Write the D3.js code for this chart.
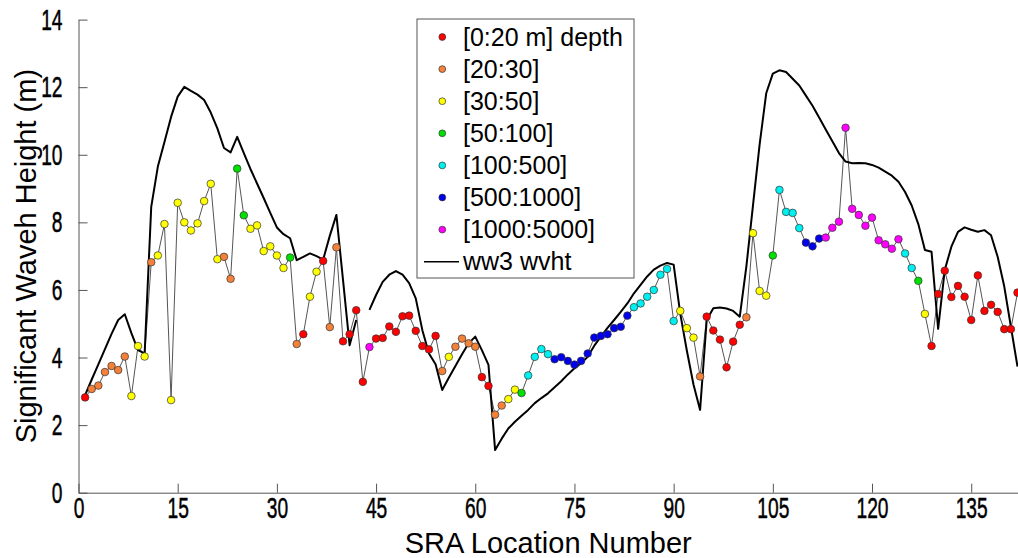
<!DOCTYPE html>
<html>
<head>
<meta charset="utf-8">
<script src="https://cdn.jsdelivr.net/npm/d3@7"></script>
<style>
  body { margin: 0; background: #fff; }
  text { font-family: 'Liberation Sans', Arial, sans-serif; }
</style>
</head>
<body>
<div id="chart"></div>
<script>
// depth classes for the observed points
const depthLabels = ['[0:20 m] depth', '[20:30]', '[30:50]', '[50:100]', '[100:500]', '[500:1000]', '[1000:5000]']
const depthColors = ['#ff0000', '#f4813a', '#ffff00', '#00e000', '#00f0f0', '#0000ee', '#ff00ff']

// observed significant wave height at SRA locations 1..142
const observedHs = [
  2.82, 3.07, 3.17, 3.57, 3.75, 3.63, 4.03, 2.86, 4.34, 4.03,
  6.82, 7.02, 7.95, 2.74, 8.58, 8.00, 7.76, 7.97, 8.63, 9.14,
  6.91, 6.98, 6.33, 9.59, 8.21, 7.81, 7.91, 7.15, 7.29, 7.02,
  6.65, 6.96, 4.40, 4.69, 5.80, 6.54, 6.86, 4.90, 7.26, 4.48,
  4.69, 5.40, 3.28, 4.31, 4.56, 4.58, 4.92, 4.76, 5.22, 5.24,
  4.79, 4.34, 4.24, 4.64, 3.60, 4.02, 4.32, 4.56, 4.42, 4.32,
  3.42, 3.16, 2.31, 2.58, 2.77, 3.05, 2.95, 3.47, 4.02, 4.25,
  4.10, 3.95, 4.01, 3.90, 3.79, 3.90, 4.12, 4.59, 4.64, 4.69,
  4.87, 4.91, 5.24, 5.49, 5.60, 5.80, 6.00, 6.45, 6.62, 5.08,
  5.38, 4.87, 4.59, 3.44, 5.21, 4.80, 4.53, 3.71, 4.47, 4.97,
  5.19, 7.68, 5.97, 5.83, 7.02, 8.96, 8.31, 8.28, 7.83, 7.40,
  7.29, 7.52, 7.55, 7.84, 8.02, 10.80, 8.40, 8.22, 7.90, 8.14,
  7.47, 7.35, 7.22, 7.50, 7.08, 6.65, 6.27, 5.29, 4.34, 5.88,
  6.57, 5.79, 6.12, 5.80, 5.11, 6.43, 5.38, 5.56, 5.35, 4.84,
  4.84, 5.92
]

// index into depthLabels for each observed point
const depthBin = [
  0, 1, 1, 1, 1, 1, 1, 2, 2, 2,
  1, 2, 2, 2, 2, 2, 2, 2, 2, 2,
  2, 1, 1, 3, 3, 2, 2, 2, 2, 2,
  2, 3, 1, 0, 2, 2, 0, 1, 1, 0,
  0, 0, 0, 6, 0, 0, 0, 0, 0, 0,
  0, 0, 0, 0, 1, 2, 1, 1, 1, 1,
  0, 0, 1, 1, 2, 2, 3, 4, 4, 4,
  4, 5, 5, 5, 5, 5, 5, 5, 5, 5,
  5, 5, 5, 4, 4, 4, 4, 4, 4, 4,
  2, 2, 2, 1, 0, 0, 0, 0, 0, 0,
  1, 2, 2, 2, 3, 4, 4, 4, 4, 5,
  5, 5, 6, 6, 6, 6, 6, 6, 6, 6,
  6, 6, 6, 6, 4, 4, 3, 2, 0, 0,
  0, 0, 0, 0, 0, 0, 0, 0, 0, 0,
  0, 0
]

// ww3 model wave height at the same locations (null = no value)
const ww3Hs = [
  2.89, 3.35, 3.80, 4.25, 4.70, 5.11, 5.28, 4.72, 4.22, 4.12,
  8.46, 9.65, 10.38, 11.12, 11.72, 12.01, 11.89, 11.78, 11.62, 11.25,
  10.78, 10.20, 10.07, 10.53, 10.05, 9.58, 9.15, 8.72, 8.28, 7.85,
  7.65, 7.53, 6.88, 6.98, 7.08, 7.00, 6.90, 7.60, 8.22, 6.30,
  4.36, 5.11, null, 5.41, 5.85, 6.24, 6.45, 6.56, 6.45, 6.20,
  5.75, 4.81, 4.12, 3.80, 3.04, 3.40, 3.75, 4.10, 4.42, 4.62,
  4.22, 3.78, 1.26, 1.60, 1.90, 2.10, 2.28, 2.45, 2.65, 2.80,
  2.94, 3.12, 3.30, 3.50, 3.68, 3.83, 4.02, 4.35, 4.62, 4.88,
  5.11, 5.35, 5.60, 5.90, 6.15, 6.40, 6.60, 6.72, 6.80, 6.75,
  5.30, 4.20, 3.20, 2.45, 5.11, 5.46, 5.48, 5.45, 5.38, 5.21,
  6.70, 8.50, 10.30, 11.82, 12.40, 12.50, 12.45, 12.25, 12.05, 11.75,
  11.45, 11.10, 10.75, 10.40, 10.05, 9.80, 9.75, 9.76, 9.75, 9.70,
  9.62, 9.50, 9.38, 9.20, 8.90, 8.50, 7.95, 7.18, 7.13, 4.85,
  6.59, 7.28, 7.72, 7.85, 7.78, 7.72, 7.77, 7.62, 6.98, 6.10,
  4.91, 3.73
]

const xTicks = [0, 15, 30, 45, 60, 75, 90, 105, 120, 135]
const yTicks = [0, 2, 4, 6, 8, 10, 12, 14]

const width = 1018
const height = 558
const margin = { top: 19.6, right: 0.5, bottom: 65.3, left: 78.5 }

const svg = d3.select('#chart').append('svg')
  .attr('width', width)
  .attr('height', height)

const xScale = d3.scaleLinear()
  .domain([0, 142])
  .range([margin.left, width - margin.right])

const yScale = d3.scaleLinear()
  .domain([0, 14])
  .range([height - margin.bottom, margin.top])

const tickScale = 0.64

// x axis, ticks pointing inward
const xAxis = svg.append('g')
  .attr('class', 'x-axis')
  .attr('transform', `translate(0, ${yScale(0)})`)
  .call(d3.axisBottom(xScale).tickValues(xTicks).tickSizeInner(-9).tickSizeOuter(0).tickPadding(4))
xAxis.select('.domain').attr('stroke', '#555')
xAxis.selectAll('.tick line').attr('stroke', '#555')
xAxis.selectAll('.tick text')
  .attr('font-size', 30)
  .attr('fill', '#000')
  .attr('stroke', '#000')
  .attr('stroke-width', 0.5)
  .attr('transform', `scale(${tickScale},1)`)

// y axis
const yAxis = svg.append('g')
  .attr('class', 'y-axis')
  .attr('transform', `translate(${xScale(0)}, 0)`)
  .call(d3.axisLeft(yScale).tickValues(yTicks).tickSizeInner(-9).tickSizeOuter(0))
yAxis.select('.domain').attr('stroke', '#555')
yAxis.selectAll('.tick line').attr('stroke', '#555')
yAxis.selectAll('.tick text')
  .attr('font-size', 30)
  .attr('fill', '#000')
  .attr('stroke', '#000')
  .attr('stroke-width', 0.5)
  .attr('x', -16 / tickScale)
  .attr('transform', `scale(${tickScale},1)`)

// axis titles
svg.append('text')
  .attr('x', (xScale(0) + width) / 2)
  .attr('y', 553)
  .attr('text-anchor', 'middle')
  .attr('font-size', 29)
  .text('SRA Location Number')

svg.append('text')
  .attr('transform', `translate(36, ${yScale(7)}) rotate(-90)`)
  .attr('text-anchor', 'middle')
  .attr('font-size', 29)
  .text('Significant Waveh Height (m)')

const points = observedHs.map((v, i) => ({ loc: i + 1, hs: v, bin: depthBin[i] }))
const model = ww3Hs.map((v, i) => ({ loc: i + 1, hs: v }))

// thin line joining the observations
svg.append('path')
  .datum(points)
  .attr('fill', 'none')
  .attr('stroke', '#555')
  .attr('stroke-width', 1)
  .attr('d', d3.line().x(d => xScale(d.loc)).y(d => yScale(d.hs)))

// ww3 model line
svg.append('path')
  .datum(model)
  .attr('fill', 'none')
  .attr('stroke', '#000')
  .attr('stroke-width', 2)
  .attr('stroke-linejoin', 'round')
  .attr('d', d3.line()
    .defined(d => d.hs !== null)
    .x(d => xScale(d.loc))
    .y(d => yScale(d.hs)))

// observation markers coloured by depth
svg.selectAll('.obs')
  .data(points)
  .enter().append('circle')
  .attr('class', 'obs')
  .attr('cx', d => xScale(d.loc))
  .attr('cy', d => yScale(d.hs))
  .attr('r', 3.8)
  .attr('fill', d => depthColors[d.bin])
  .attr('stroke', '#333')
  .attr('stroke-width', 0.7)

// legend
const legend = svg.append('g')
  .attr('class', 'legend')
  .attr('transform', 'translate(417, 19)')

legend.append('rect')
  .attr('width', 217)
  .attr('height', 259)
  .attr('fill', '#fff')
  .attr('stroke', '#555')

const rowY = i => 18 + i * 32.1

legend.selectAll('.leg-dot')
  .data(depthLabels)
  .enter().append('circle')
  .attr('cx', 25.3)
  .attr('cy', (d, i) => rowY(i))
  .attr('r', 3.4)
  .attr('fill', (d, i) => depthColors[i])
  .attr('stroke', '#333')
  .attr('stroke-width', 0.7)

legend.selectAll('.leg-text')
  .data(depthLabels.concat(['ww3 wvht']))
  .enter().append('text')
  .attr('x', 46)
  .attr('y', (d, i) => rowY(i))
  .attr('dy', '0.35em')
  .attr('font-size', 25)
  .text(d => d)

legend.append('line')
  .attr('x1', 7)
  .attr('x2', 42)
  .attr('y1', rowY(7))
  .attr('y2', rowY(7))
  .attr('stroke', '#000')
  .attr('stroke-width', 1.5)
</script>
</body>
</html>
